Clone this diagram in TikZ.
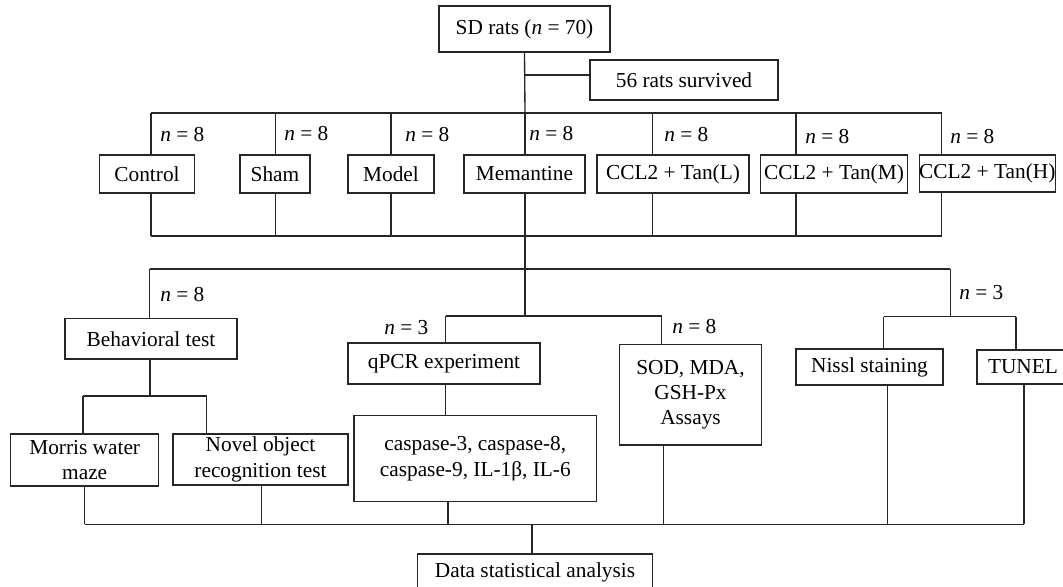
\documentclass[tikz,border=0pt]{standalone}
\usepackage{fontspec}
\setmainfont{Liberation Serif}
\begin{document}
\begin{tikzpicture}[x=0.75pt,y=-0.75pt,
  link/.style={line width=1pt, draw=black!85},
  box/.style={draw=black!85, line width=1pt, inner sep=0pt, align=center,
    font=\fontsize{16}{19}\selectfont},
  lbl/.style={anchor=west, inner sep=0pt, font=\fontsize{16}{19}\selectfont}]
\useasboundingbox (0,0) rectangle (1063,586);
\clip (0,0) rectangle (1063,586);

% box: name, centre x, centre y, width, height, text
\newcommand{\bx}[6]{\node[box, minimum width=#4*0.75pt, minimum height=#5*0.75pt] (#1) at (#2,#3) {#6};}
\newcommand{\nlab}[3]{\node[lbl] at (#1,#2) {\textit{n} = #3};}

% ---- boxes ----
\bx{sd}{524.5}{29}{171}{46}{SD rats (\textit{n} = 70)}
\bx{surv}{684}{80}{188}{40}{56 rats survived}

\bx{ctrl}{147}{174}{95}{38}{Control}
\bx{sham}{275}{174}{70}{38}{Sham}
\bx{model}{391}{174}{86}{38}{Model}
\bx{mem}{524.4}{174}{121}{38}{Memantine}
\bx{tanL}{673}{174}{152}{38}{CCL2 + Tan(L)}
\bx{tanM}{834}{174}{146.5}{38}{CCL2 + Tan(M)}
\bx{tanH}{987.3}{173.5}{136}{37}{CCL2 + Tan(H)}

\bx{behav}{151}{338.7}{172}{40.7}{Behavioral test}
\bx{morris}{84.7}{460}{148}{52}{Morris water\\maze}
\bx{novel}{260.5}{459.5}{175}{51}{Novel object\\recognition test}
\bx{qpcr}{444}{363.5}{192}{41}{qPCR experiment}
\bx{casp}{475.3}{458.7}{242.6}{86}{caspase-3, caspase-8,\\caspase-9, IL-1β, IL-6}
\bx{sod}{690.5}{394.8}{142.3}{100.3}{SOD, MDA,\\GSH-Px\\Assays}
\bx{nissl}{869.5}{367}{147}{36}{Nissl staining}
\bx{tunel}{1023}{367}{92}{34}{TUNEL}
\bx{data}{535}{572}{235.4}{36}{Data statistical analysis}

% ---- group sizes ----
\nlab{160}{135}{8}
\nlab{284}{134}{8}
\nlab{405}{135}{8}
\nlab{529}{134}{8}
\nlab{664}{135}{8}
\nlab{805}{137}{8}
\nlab{950}{137}{8}
\nlab{160}{295}{8}
\nlab{384}{328}{3}
\nlab{672}{327}{8}
\nlab{959}{293}{3}

% ---- trunk and survival branch ----
\coordinate (tJ) at (525,113);
\coordinate (sv) at (525,75);
\draw[link] (sd.south) -- (tJ);
\draw[link] (sv) -- (sv -| surv.west);

% ---- group buses ----
\coordinate (tL) at (151,113);
\coordinate (tR) at (941.7,113);
\coordinate (gL) at (151,236);
\coordinate (gR) at (941.7,236);
\draw[link] (tL) -- (tR);
\draw[link] (gL) -- (gR);
\foreach \n/\x in {ctrl/151, sham/275.5, model/391, mem/525, tanL/652.6, tanM/796, tanH/941.7}{
  \coordinate (up) at (\x,113);
  \coordinate (dn) at (\x,236);
  \draw[link] (up) -- (up |- \n.north);
  \draw[link] (\n.south -| dn) -- (dn);
}

% ---- distribution bus ----
\coordinate (gJ) at (525,236);
\coordinate (dJ) at (525,269);
\coordinate (dL) at (149.5,269);
\coordinate (dR) at (950.4,269);
\draw[link] (gJ) -- (dJ);
\draw[link] (dL) -- (dR);

% behavioural branch
\draw[link] (dL) -- (dL |- behav.north);
\coordinate (bs) at (150,396);
\coordinate (bsL) at (83,396);
\coordinate (bsR) at (206.6,396);
\draw[link] (behav.south -| bs) -- (bs);
\draw[link] (bsL) -- (bsR);
\draw[link] (bsL) -- (bsL |- morris.north);
\draw[link] (bsR) -- (bsR |- novel.north);

% molecular branch
\coordinate (mJ) at (525,316);
\coordinate (mL) at (445.6,316);
\coordinate (mR) at (661.6,316);
\draw[link] (dJ) -- (mJ);
\draw[link] (mL) -- (mR);
\draw[link] (mL) -- (mL |- qpcr.north);
\draw[link] (mR) -- (mR |- sod.north);
\draw[link] (qpcr.south -| mL) -- (casp.north -| mL);

% histology branch
\coordinate (rB) at (950.4,316.7);
\coordinate (rL) at (883.6,316.7);
\coordinate (rR) at (1016,316.7);
\draw[link] (dR) -- (rB);
\draw[link] (rL) -- (rR);
\draw[link] (rL) -- (rL |- nissl.north);
\draw[link] (rR) -- (rR |- tunel.north);

% ---- collection bus ----
\coordinate (cL) at (84.7,524.3);
\coordinate (cR) at (1024,524.3);
\draw[link] (cL) -- (cR);
\foreach \n/\x in {morris/84.7, novel/261.7, casp/448, sod/663.7, nissl/887.4, tunel/1024}{
  \coordinate (cb) at (\x,524.3);
  \draw[link] (\n.south -| cb) -- (cb);
}
\coordinate (cJ) at (532,524.3);
\draw[link] (cJ) -- (cJ |- data.north);
\end{tikzpicture}
\end{document}
